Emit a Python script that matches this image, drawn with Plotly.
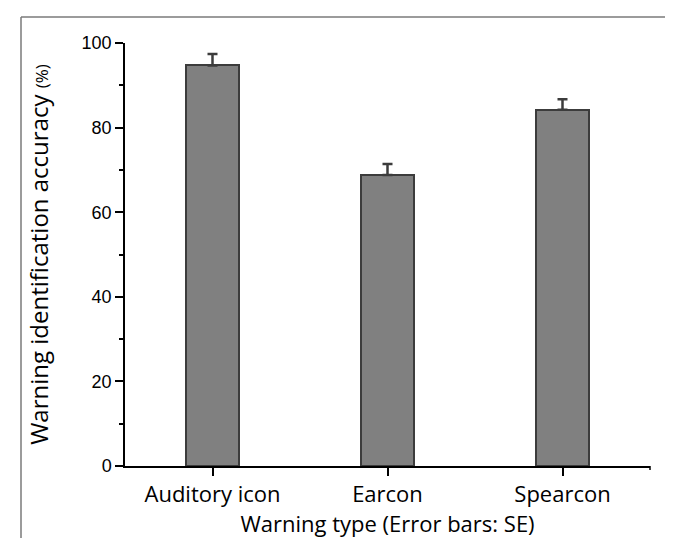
import plotly.graph_objects as go

categories = ["Auditory icon", "Earcon", "Spearcon"]
accuracy = [94.7, 68.8, 84.2]
se = [2.7, 2.6, 2.5]
y_ticks = [0, 20, 40, 60, 80, 100]

W, H = 673, 538
L, R, T, B = 117, 31, 35, 80
pw = W - L - R
ph = H - T - B

def px_x(px):
    return (px - L) / pw

def px_y(py):
    return 1 - (py - T) / ph

fig = go.Figure()
fig.add_trace(go.Bar(
    x=categories, y=accuracy, width=0.3,
    marker=dict(color="#808080", line=dict(color="#3c3c3c", width=2)),
    error_y=dict(type="data", symmetric=False, array=se, arrayminus=[0]*len(se),
                 color="#3c3c3c", thickness=2.5, width=5),
))

axis_font = dict(family="Open Sans, Noto Sans, sans-serif", size=22, color="black")
fig.update_layout(
    width=W, height=H,
    margin=dict(l=L, r=R, t=T, b=B),
    paper_bgcolor="white", plot_bgcolor="white",
    showlegend=False,
    bargap=0,
    xaxis=dict(
        type="category", range=[-0.5, 2.5],
        showline=True, linecolor="black", linewidth=1.5,
        ticks="outside", ticklen=8, tickwidth=1.5, tickcolor="black",
        tickfont=axis_font, showgrid=False, zeroline=False,
        title=dict(text="Warning type (Error bars: SE)", font=axis_font, standoff=2),
    ),
    yaxis=dict(
        range=[0, 100], tickvals=y_ticks,
        showline=True, linecolor="black", linewidth=1.5,
        ticks="outside", ticklen=8, tickwidth=1.5, tickcolor="black",
        minor=dict(dtick=10, ticks="outside", ticklen=4, tickwidth=1.5, tickcolor="black", showgrid=False),
        tickfont=dict(family="Liberation Sans, Arial, sans-serif", size=18, color="black"),
        showgrid=False, zeroline=False,
        title=dict(text="Warning identification accuracy <span style='font-size:17px'>(%)</span>",
                   font=dict(family="Open Sans, Noto Sans, sans-serif", size=24, color="black"),
                   standoff=26),
    ),
)

# outer frame
frame_color = "#7a7a7a"
fig.add_shape(type="line", xref="paper", yref="paper",
              x0=px_x(13), x1=px_x(13), y0=px_y(9), y1=px_y(545),
              line=dict(color=frame_color, width=1.5))
fig.add_shape(type="line", xref="paper", yref="paper",
              x0=px_x(13), x1=px_x(670), y0=px_y(9), y1=px_y(9),
              line=dict(color=frame_color, width=1.5))
fig.add_shape(type="line", xref="paper", yref="paper",
              x0=px_x(670), x1=px_x(670), y0=px_y(9), y1=px_y(545),
              line=dict(color=frame_color, width=1.5))
# small end tick on x axis
fig.add_shape(type="line", xref="paper", yref="paper",
              x0=1, x1=1, y0=0, y1=px_y(T + ph + 4),
              line=dict(color="black", width=1.5))

fig.write_html("out.html")
